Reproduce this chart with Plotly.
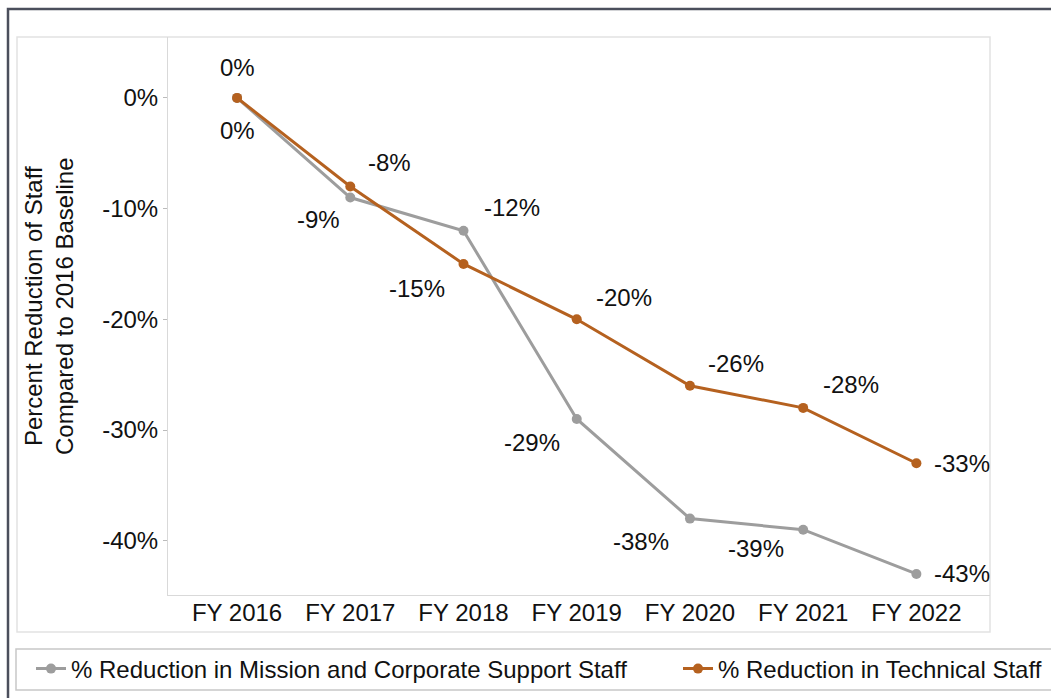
import plotly.graph_objects as go

categories = ["FY 2016", "FY 2017", "FY 2018", "FY 2019", "FY 2020", "FY 2021", "FY 2022"]
support_staff = [0, -9, -12, -29, -38, -39, -43]
technical_staff = [0, -8, -15, -20, -26, -28, -33]
y_ticks = [0, -10, -20, -30, -40]

name_support = "% Reduction in Mission and Corporate Support Staff"
name_technical = "% Reduction in Technical Staff"

# label offsets in pixels (dx right, dy down)
support_offsets = [(0, 33), (-32, 22), (48, -23), (-45, 24), (-49, 23), (-47, 19), (46, 0)]
technical_offsets = [(0, -30), (39, -24), (-47, 25), (47, -22), (46, -22), (48, -23), (46, 0)]

W, H = 1051, 698
L, R, T, B = 168, 990, 37, 595
FONT = "Liberation Sans, Arial, sans-serif"
FS = 24
GREY = "#9d9d9d"
ORANGE = "#b5611f"
TXT = "#111111"

xi = list(range(len(categories)))

fig = go.Figure()
fig.add_trace(go.Scatter(x=xi, y=support_staff, mode="lines+markers", name=name_support,
                         line=dict(color=GREY, width=3), marker=dict(color=GREY, size=10),
                         legend="legend"))
fig.add_trace(go.Scatter(x=xi, y=technical_staff, mode="lines+markers", name=name_technical,
                         line=dict(color=ORANGE, width=3), marker=dict(color=ORANGE, size=10),
                         legend="legend2"))

ann = []
for vals, offs in ((support_staff, support_offsets), (technical_staff, technical_offsets)):
    for x, v, (dx, dy) in zip(xi, vals, offs):
        ann.append(dict(x=x, y=v, xref="x", yref="y", text=f"{v}%", showarrow=False,
                        xshift=dx, yshift=-dy, font=dict(family=FONT, size=FS, color=TXT)))

def px(xp):
    return (xp - L) / (R - L)

def py(yp):
    return (B - yp) / (B - T)

ann.append(dict(x=px(49), y=py(306), xref="paper", yref="paper", showarrow=False,
                xanchor="center", yanchor="middle",
                text="Percent Reduction of Staff<br>Compared to 2016 Baseline", textangle=-90,
                font=dict(family=FONT, size=FS, color=TXT)))

shapes = [
    dict(type="rect", xref="paper", yref="paper", x0=px(8), y0=py(9), x1=px(1070), y1=py(720),
         line=dict(color="#4b4f5c", width=2.5), fillcolor="rgba(0,0,0,0)", layer="below"),
    dict(type="rect", xref="paper", yref="paper", x0=px(17), y0=py(37), x1=px(990), y1=py(632),
         line=dict(color="#e2e2e2", width=1.5), fillcolor="rgba(0,0,0,0)", layer="below"),
    dict(type="rect", xref="paper", yref="paper", x0=px(16), y0=py(649), x1=px(1070), y1=py(690),
         line=dict(color="#c8c8c8", width=1.5), fillcolor="rgba(0,0,0,0)", layer="below"),
]

leg_common = dict(orientation="h", yanchor="middle", xanchor="left", itemwidth=30,
                  font=dict(family=FONT, size=FS, color=TXT),
                  bgcolor="rgba(0,0,0,0)", borderwidth=0)

fig.update_layout(
    width=W, height=H,
    margin=dict(l=L, r=W - R, t=T, b=H - B, autoexpand=False),
    paper_bgcolor="white", plot_bgcolor="white",
    font=dict(family=FONT, size=FS, color=TXT),
    showlegend=True,
    legend=dict(x=px(31), y=py(669), **leg_common),
    legend2=dict(x=px(678), y=py(669), **leg_common),
    annotations=ann,
    shapes=shapes,
)
fig.update_xaxes(range=[-0.61, 6.65], tickvals=xi, ticktext=categories, showgrid=False,
                 zeroline=False, showline=True, linecolor="#d9d9d9", linewidth=1, ticks="",
                 ticklabelstandoff=-4,
                 tickfont=dict(family=FONT, size=FS, color=TXT))
fig.update_yaxes(range=[-44.9, 5.5], tickvals=y_ticks, ticktext=[f"{v}%" for v in y_ticks],
                 showgrid=False, zeroline=False, showline=True, linecolor="#d9d9d9", linewidth=1,
                 ticks="outside", ticklen=4, tickcolor="#bbbbbb",
                 tickfont=dict(family=FONT, size=FS, color=TXT))

fig.write_html("out.html")
